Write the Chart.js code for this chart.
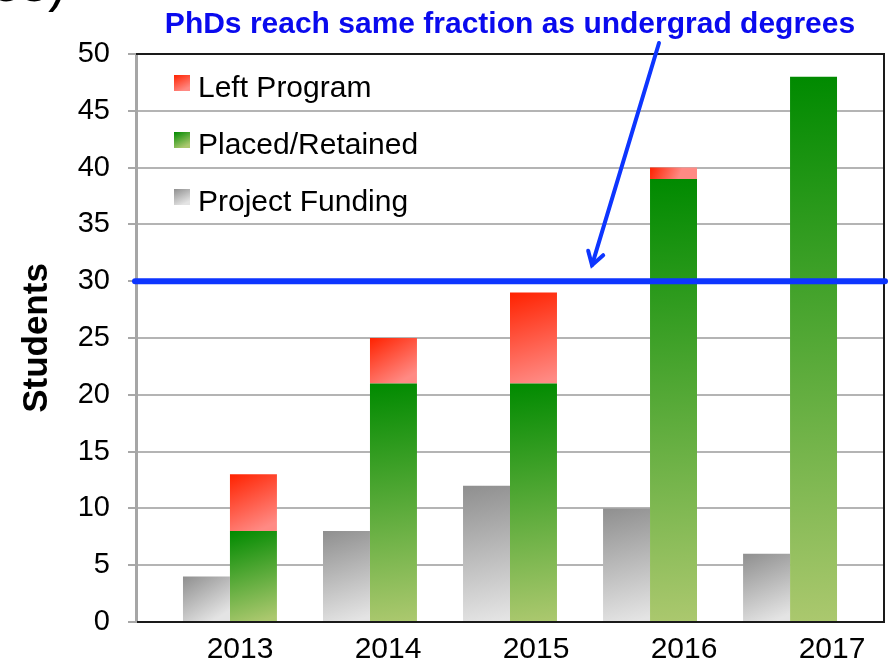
<!DOCTYPE html>
<html>
<head>
<meta charset="utf-8">
<title>Students per year</title>
<script src="https://cdn.jsdelivr.net/npm/chart.js@4.4.1/dist/chart.umd.min.js"></script>
<style>
  html, body { margin: 0; padding: 0; background: #fff; }
  #wrap { width: 888px; height: 665px; position: relative; }
</style>
</head>
<body>
<div id="wrap"><canvas id="studentsChart"></canvas></div>
<script>
// data
const years = ['2013', '2014', '2015', '2016', '2017'];
const projectFunding = [4, 8, 12, 10, 6];
const placedRetained = [8, 21, 21, 39, 48];
const leftProgram = [5, 4, 8, 1, 0];

const yMin = 0;
const yMax = 50;
const yStep = 5;
const undergradLevel = 30;
const calloutText = 'PhDs reach same fraction as undergrad degrees';
const cutTitle = 'es)';

const FONT = "'Liberation Sans', Arial, Helvetica, sans-serif";
const CAT_PCT = 0.671;

// top / bottom colours of each gradient fill
const grayFill = ['#8f8f8f', '#e4e4e4'];
const greenFill = ['#008a00', '#abc86e'];
const redFill = ['#ff2200', '#ff8a84'];

/**
 * Returns a scriptable backgroundColor that paints each bar with its own gradient.
 */
function barFill(colors, side, values, baseValues) {
    return function (context) {
        const chart = context.chart;
        if (context.type !== 'data' || !chart.chartArea) {
            return colors[0];
        }
        const i = context.dataIndex;
        const xs = chart.scales.x;
        const ys = chart.scales.y;
        const slot = (xs.getPixelForValue(1) - xs.getPixelForValue(0)) * CAT_PCT / 2;
        const left = xs.getPixelForValue(i) + (side < 0 ? -slot : 0);
        const base = baseValues ? baseValues[i] : 0;
        const top = ys.getPixelForValue(base + values[i]);
        const bottom = ys.getPixelForValue(base);
        const g = chart.ctx.createLinearGradient(left, top, left + slot * 0.6, bottom);
        g.addColorStop(0, colors[0]);
        g.addColorStop(1, colors[1]);
        return g;
    };
}

const toPoints = arr => arr.map((v, i) => ({ x: i, y: v }));
const yearTicks = axis => {
    axis.ticks = years.map((_, i) => ({ value: i }));
};

// frame: black top / right border and black baseline
const framePlugin = {
    id: 'frame',
    beforeDatasetsDraw(chart) {
        const { ctx, chartArea } = chart;
        const y0 = chart.scales.y.getPixelForValue(0);
        ctx.save();
        ctx.strokeStyle = '#1a1a1a';
        ctx.lineWidth = 2;
        ctx.beginPath();
        ctx.moveTo(chartArea.left, chartArea.top);
        ctx.lineTo(chartArea.right, chartArea.top);
        ctx.lineTo(chartArea.right, y0);
        ctx.lineTo(chartArea.left + 1, y0);
        ctx.stroke();
        ctx.restore();
    }
};

// legend drawn inside the plot, reverse dataset order
const insideLegend = {
    id: 'insideLegend',
    afterDatasetsDraw(chart) {
        const { ctx, chartArea } = chart;
        const fills = [grayFill, greenFill, redFill];
        const items = chart.data.datasets.map((ds, k) => ({ label: ds.label, colors: fills[k] })).reverse();
        ctx.save();
        ctx.font = '30px ' + FONT;
        ctx.textBaseline = 'alphabetic';
        items.forEach((item, k) => {
            const bx = chartArea.left + 38;
            const by = chartArea.top + 21 + k * 57;
            const g = ctx.createLinearGradient(bx, by, bx + 8, by + 16);
            g.addColorStop(0, item.colors[0]);
            g.addColorStop(1, item.colors[1]);
            ctx.fillStyle = g;
            ctx.fillRect(bx, by, 16, 16);
            ctx.fillStyle = '#000';
            ctx.fillText(item.label, bx + 24, by + 22);
        });
        ctx.restore();
    }
};

// blue target line, callout text and arrow
const calloutPlugin = {
    id: 'callout',
    afterDraw(chart) {
        const { ctx, chartArea } = chart;
        const yLine = chart.scales.y.getPixelForValue(undergradLevel);
        ctx.save();
        ctx.strokeStyle = '#0d35ff';
        ctx.lineCap = 'round';
        ctx.lineWidth = 6;
        ctx.beginPath();
        ctx.moveTo(chartArea.left - 1, yLine);
        ctx.lineTo(chart.width - 3, yLine);
        ctx.stroke();

        // arrow
        const tail = { x: 659, y: 43 };
        const tip = { x: 592, y: yLine - 16 };
        ctx.lineWidth = 4;
        ctx.beginPath();
        ctx.moveTo(tail.x, tail.y);
        ctx.lineTo(tip.x, tip.y);
        ctx.stroke();
        const ang = Math.atan2(tip.y - tail.y, tip.x - tail.x);
        const headLen = 15;
        ctx.beginPath();
        ctx.moveTo(tip.x - headLen * Math.cos(ang - 0.55), tip.y - headLen * Math.sin(ang - 0.55));
        ctx.lineTo(tip.x, tip.y);
        ctx.lineTo(tip.x - headLen * Math.cos(ang + 0.55), tip.y - headLen * Math.sin(ang + 0.55));
        ctx.stroke();

        ctx.fillStyle = '#0a0aee';
        ctx.font = 'bold 30px ' + FONT;
        ctx.textAlign = 'center';
        ctx.textBaseline = 'alphabetic';
        ctx.fillText(calloutText, 510, 33);

        // leftover of the slide title, cut by the top edge
        ctx.fillStyle = '#000';
        ctx.font = '54px ' + FONT;
        ctx.textAlign = 'right';
        ctx.fillText(cutTitle, 66, 1);
        ctx.restore();
    }
};

const ctx = document.getElementById('studentsChart').getContext('2d');
new Chart(ctx, {
    type: 'bar',
    data: {
        datasets: [{
            label: 'Project Funding',
            data: toPoints(projectFunding),
            stack: 'funding',
            backgroundColor: barFill(grayFill, -1, projectFunding, null)
        }, {
            label: 'Placed/Retained',
            data: toPoints(placedRetained),
            stack: 'students',
            backgroundColor: barFill(greenFill, 1, placedRetained, null)
        }, {
            label: 'Left Program',
            data: toPoints(leftProgram),
            stack: 'students',
            backgroundColor: barFill(redFill, 1, leftProgram, placedRetained)
        }]
    },
    options: {
        responsive: true,
        maintainAspectRatio: false,
        devicePixelRatio: 1,
        animation: false,
        barPercentage: 1,
        categoryPercentage: CAT_PCT,
        layout: { padding: { top: 54, right: 4, left: 0, bottom: 0 } },
        plugins: {
            legend: { display: false },
            tooltip: { enabled: false }
        },
        scales: {
            x: {
                type: 'linear',
                min: -0.671,
                max: 4.671,
                offset: false,
                grid: { offset: false },
                afterBuildTicks: yearTicks,
                display: false
            },
            years: {
                type: 'linear',
                position: 'bottom',
                min: -0.703,
                max: 4.351,
                offset: false,
                grid: { display: false, drawTicks: false, offset: false },
                border: { display: false },
                afterBuildTicks: yearTicks,
                afterFit: axis => { axis.height = 43; },
                ticks: {
                    autoSkip: false,
                    maxRotation: 0,
                    padding: 10,
                    color: '#000',
                    font: { family: FONT, size: 30 },
                    callback: value => years[value]
                }
            },
            y: {
                stacked: true,
                min: yMin,
                max: yMax,
                afterFit: axis => { axis.width = 136; },
                grid: {
                    color: '#b4b4b4',
                    lineWidth: 2,
                    tickLength: 8,
                    tickColor: '#a8a8a8',
                    tickWidth: 2
                },
                border: { display: true, color: '#a6a6a6', width: 3 },
                ticks: {
                    stepSize: yStep,
                    padding: 18,
                    color: '#000',
                    font: { family: FONT, size: 29 }
                },
                title: {
                    display: true,
                    text: 'Students',
                    color: '#000',
                    padding: { top: 16, bottom: 0 },
                    font: { family: FONT, size: 35, weight: 'bold' }
                }
            }
        }
    },
    plugins: [framePlugin, insideLegend, calloutPlugin]
});
</script>
</body>
</html>
